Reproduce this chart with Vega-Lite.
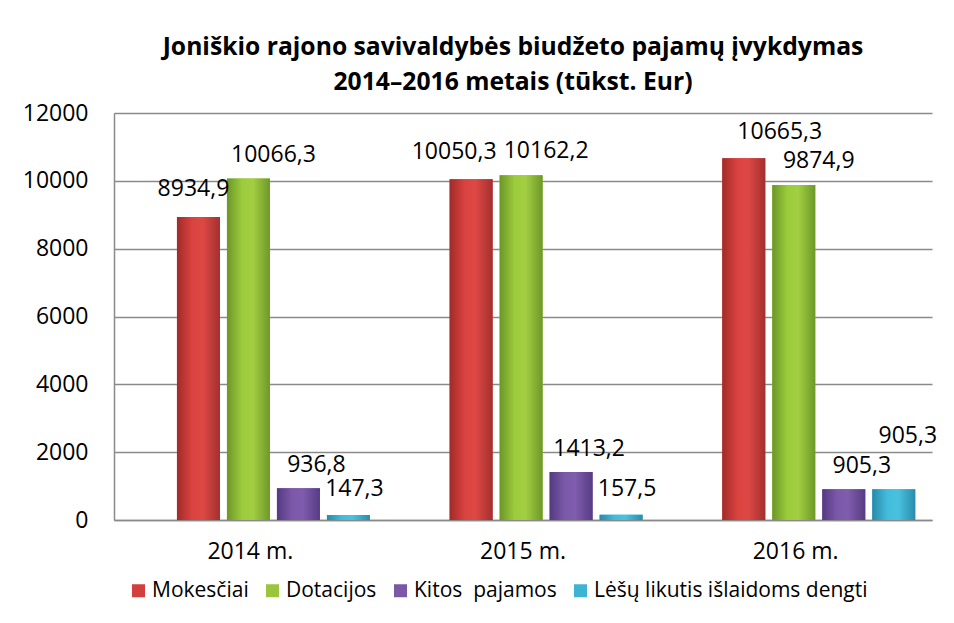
{
  "$schema": "https://vega.github.io/schema/vega-lite/v6.json",
  "width": 818,
  "height": 407,
  "autosize": "none",
  "padding": {"left": 114, "top": 113, "right": 22, "bottom": 103},
  "background": "white",
  "title": {
    "text": ["Joniškio rajono savivaldybės biudžeto pajamų įvykdymas", "2014–2016 metais (tūkst. Eur)"],
    "font": "Open Sans",
    "fontSize": 24.7,
    "fontWeight": "bold",
    "lineHeight": 35,
    "color": "#000000",
    "anchor": "middle",
    "dx": -10,
    "offset": 7
  },
  "config": {
    "view": {"stroke": null},
    "font": "Open Sans",
    "locale": {"number": {"decimal": ",", "thousands": "", "grouping": [3], "currency": ["", ""]}}
  },
  "data": {
    "values": [
      {"year": "2014 m.", "series": "Mokesčiai", "value": 8934.9},
      {"year": "2014 m.", "series": "Dotacijos", "value": 10066.3},
      {"year": "2014 m.", "series": "Kitos  pajamos", "value": 936.8},
      {"year": "2014 m.", "series": "Lėšų likutis išlaidoms dengti", "value": 147.3},
      {"year": "2015 m.", "series": "Mokesčiai", "value": 10050.3},
      {"year": "2015 m.", "series": "Dotacijos", "value": 10162.2},
      {"year": "2015 m.", "series": "Kitos  pajamos", "value": 1413.2},
      {"year": "2015 m.", "series": "Lėšų likutis išlaidoms dengti", "value": 157.5},
      {"year": "2016 m.", "series": "Mokesčiai", "value": 10665.3},
      {"year": "2016 m.", "series": "Dotacijos", "value": 9874.9},
      {"year": "2016 m.", "series": "Kitos  pajamos", "value": 905.3},
      {"year": "2016 m.", "series": "Lėšų likutis išlaidoms dengti", "value": 905.3}
    ]
  },
  "encoding": {
    "x": {
      "field": "year",
      "type": "nominal",
      "sort": null,
      "scale": {"paddingInner": 0, "paddingOuter": 0},
      "axis": {
        "title": null,
        "labelAngle": 0,
        "ticks": false,
        "domainColor": "#8a8a8a",
        "domainWidth": 1.5,
        "labelFontSize": 23,
        "labelColor": "#000000",
        "labelPadding": 20,
        "labelFont": "Open Sans"
      }
    },
    "xOffset": {
      "field": "series",
      "type": "nominal",
      "sort": null,
      "scale": {
        "domain": ["Mokesčiai", "Dotacijos", "Kitos  pajamos", "Lėšų likutis išlaidoms dengti"],
        "paddingInner": 0.14,
        "paddingOuter": 0.797,
        "align": 0.79
      }
    },
    "y": {
      "field": "value",
      "type": "quantitative",
      "scale": {"domain": [0, 12000], "nice": false},
      "axis": {
        "title": null,
        "values": [0, 2000, 4000, 6000, 8000, 10000, 12000],
        "format": "d",
        "ticks": false,
        "labelPadding": 26,
        "labelFontSize": 23,
        "labelColor": "#000000",
        "labelFont": "Open Sans",
        "gridColor": "#8a8a8a",
        "gridWidth": 1.5,
        "domainColor": "#8a8a8a",
        "domainWidth": 1.5
      }
    }
  },
  "layer": [
    {
      "mark": {"type": "bar"},
      "encoding": {
        "color": {
          "field": "series",
          "type": "nominal",
          "sort": null,
          "scale": {
            "domain": ["Mokesčiai", "Dotacijos", "Kitos  pajamos", "Lėšų likutis išlaidoms dengti"],
            "range": ["#d23f3d", "#9bc53d", "#7a58a6", "#3eb3d4"]
          },
          "legend": {
            "title": null,
            "orient": "none",
            "legendX": 14,
            "legendY": 467,
            "direction": "horizontal",
            "symbolType": "square",
            "symbolSize": 169,
            "symbolStrokeWidth": 0,
            "labelFontSize": 21,
            "labelFont": "Open Sans",
            "labelColor": "#000000",
            "labelOffset": 3,
            "labelLimit": 500,
            "labelExpr": "datum.label == 'Kitos  pajamos' ? 'Kitos \u00a0pajamos' : datum.label",
            "columnPadding": 13
          }
        }
      }
    },
    {
      "transform": [{"filter": "datum.series == 'Mokesčiai'"}],
      "mark": {"type": "bar", "color": {"gradient": "linear", "x1": 0, "x2": 1, "y1": 0, "y2": 0, "stops": [{"offset": 0, "color": "#a12b29"}, {"offset": 0.35, "color": "#d9423f"}, {"offset": 0.6, "color": "#dd4845"}, {"offset": 1, "color": "#a3302e"}]}}
    },
    {
      "transform": [{"filter": "datum.series == 'Dotacijos'"}],
      "mark": {"type": "bar", "color": {"gradient": "linear", "x1": 0, "x2": 1, "y1": 0, "y2": 0, "stops": [{"offset": 0, "color": "#6c9626"}, {"offset": 0.35, "color": "#9ccb3c"}, {"offset": 0.6, "color": "#a2cf42"}, {"offset": 1, "color": "#6e9828"}]}}
    },
    {
      "transform": [{"filter": "datum.series == 'Kitos  pajamos'"}],
      "mark": {"type": "bar", "color": {"gradient": "linear", "x1": 0, "x2": 1, "y1": 0, "y2": 0, "stops": [{"offset": 0, "color": "#553982"}, {"offset": 0.35, "color": "#7b59a9"}, {"offset": 0.6, "color": "#7f5cad"}, {"offset": 1, "color": "#573b84"}]}}
    },
    {
      "transform": [{"filter": "datum.series == 'Lėšų likutis išlaidoms dengti'"}],
      "mark": {"type": "bar", "color": {"gradient": "linear", "x1": 0, "x2": 1, "y1": 0, "y2": 0, "stops": [{"offset": 0, "color": "#288aa9"}, {"offset": 0.35, "color": "#43bcdc"}, {"offset": 0.6, "color": "#4ac1e0"}, {"offset": 1, "color": "#2a8cab"}]}}
    },
    {
      "transform": [{"filter": "datum.series == 'Mokesčiai' && datum.year == '2014 m.'"}],
      "mark": {"type": "text", "font": "Open Sans", "fontSize": 23, "color": "#000000", "baseline": "middle", "dx": -5, "dy": -28},
      "encoding": {"text": {"field": "value", "type": "quantitative", "format": ".1f"}}
    },
    {
      "transform": [{"filter": "datum.series == 'Mokesčiai' && datum.year == '2015 m.'"}],
      "mark": {"type": "text", "font": "Open Sans", "fontSize": 23, "color": "#000000", "baseline": "middle", "dx": -17, "dy": -27},
      "encoding": {"text": {"field": "value", "type": "quantitative", "format": ".1f"}}
    },
    {
      "transform": [{"filter": "datum.series == 'Mokesčiai' && datum.year == '2016 m.'"}],
      "mark": {"type": "text", "font": "Open Sans", "fontSize": 23, "color": "#000000", "baseline": "middle", "dx": 36, "dy": -26},
      "encoding": {"text": {"field": "value", "type": "quantitative", "format": ".1f"}}
    },
    {
      "transform": [{"filter": "datum.series == 'Dotacijos'"}],
      "mark": {"type": "text", "font": "Open Sans", "fontSize": 23, "color": "#000000", "baseline": "middle", "dx": 25, "dy": -24},
      "encoding": {"text": {"field": "value", "type": "quantitative", "format": ".1f"}}
    },
    {
      "transform": [{"filter": "datum.series == 'Kitos  pajamos'"}],
      "mark": {"type": "text", "font": "Open Sans", "fontSize": 23, "color": "#000000", "baseline": "middle", "dx": 18, "dy": -23},
      "encoding": {"text": {"field": "value", "type": "quantitative", "format": ".1f"}}
    },
    {
      "transform": [{"filter": "datum.series == 'Lėšų likutis išlaidoms dengti' && datum.year != '2016 m.'"}],
      "mark": {"type": "text", "font": "Open Sans", "fontSize": 23, "color": "#000000", "baseline": "middle", "dx": 6, "dy": -26},
      "encoding": {"text": {"field": "value", "type": "quantitative", "format": ".1f"}}
    },
    {
      "transform": [{"filter": "datum.series == 'Lėšų likutis išlaidoms dengti' && datum.year == '2016 m.'"}],
      "mark": {"type": "text", "font": "Open Sans", "fontSize": 23, "color": "#000000", "baseline": "middle", "dx": 14, "dy": -53},
      "encoding": {"text": {"field": "value", "type": "quantitative", "format": ".1f"}}
    }
  ]
}
